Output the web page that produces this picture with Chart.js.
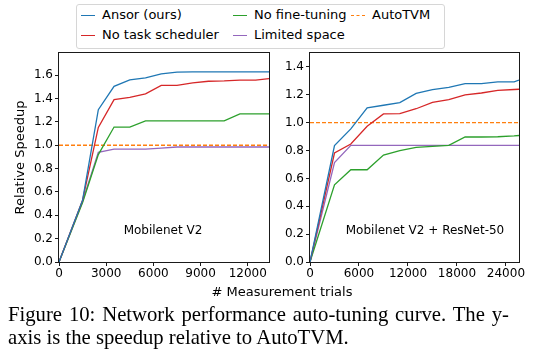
<!DOCTYPE html>
<html>
<head>
<meta charset="utf-8">
<script src="https://cdn.jsdelivr.net/npm/chart.js@4.4.1/dist/chart.umd.min.js"></script>
<style>
  html, body { margin:0; padding:0; background:#fff; }
  body { width:538px; height:360px; position:relative; overflow:hidden; font-family:'DejaVu Sans', sans-serif; }
  canvas { position:absolute; }
  .abs { position:absolute; white-space:nowrap; }
  #legend { position:absolute; left:76px; top:4px; width:367px; height:43px; border:1px solid #d6d6d6; border-radius:3px; background:#fff; font-size:13px; color:#000; z-index:2; }
  .lg-line { position:absolute; width:14px; height:0; border-top-width:1.5px; border-top-style:solid; }
  .lg-text { position:absolute; line-height:14px; white-space:nowrap; }
  .note { font-size:12px; color:#000; transform:translate(-50%,-50%); }
  .cap { font-family:'Liberation Serif', serif; font-size:20.7px; color:#000; }
</style>
</head>
<body>
<canvas id="left" width="280" height="300" style="left:0;top:0;width:280px;height:300px"></canvas>
<canvas id="right" width="258" height="300" style="left:280px;top:0;width:258px;height:300px"></canvas>

<div id="legend"></div>

<div class="abs note" style="left:163px;top:230px">Mobilenet V2</div>
<div class="abs note" style="left:425px;top:230px">Mobilenet V2 + ResNet-50</div>
<div class="abs" style="left:282px;top:291px;font-size:13px;transform:translate(-50%,-50%)"># Measurement trials</div>

<div class="abs cap" style="left:8px;top:303px;width:501px;text-align:justify;text-align-last:justify;">Figure 10: Network performance auto-tuning curve. The y-</div>
<div class="abs cap" style="left:8px;top:326px;">axis is the speedup relative to AutoTVM.</div>

<script>
// ---------- data ----------
const seriesNames = ['Ansor (ours)', 'No task scheduler', 'No fine-tuning', 'Limited space', 'AutoTVM'];
const seriesColors = ['#1f77b4', '#d62728', '#2ca02c', '#9467bd', '#ff7f0e'];

// Left panel: Mobilenet V2
const leftTrials   = [0, 1500, 2500, 3500, 4500, 5500, 6500, 7500, 8500, 9500, 10500, 11500, 12500, 13350];
const leftAnsor    = [0, 0.53, 1.305, 1.505, 1.56, 1.577, 1.612, 1.627, 1.628, 1.628, 1.628, 1.628, 1.628, 1.628];
const leftNoSched  = [0, 0.53, 1.153, 1.39, 1.41, 1.44, 1.512, 1.513, 1.534, 1.548, 1.551, 1.558, 1.558, 1.571];
const leftNoFine   = [0, 0.51, 0.92, 1.156, 1.156, 1.208, 1.208, 1.208, 1.208, 1.208, 1.208, 1.268, 1.268, 1.268];
const leftLimited  = [0, 0.52, 0.94, 0.967, 0.967, 0.967, 0.975, 0.985, 0.985, 0.985, 0.985, 0.985, 0.985, 0.985];
const leftAutoTVM  = [1.0, 1.0];
const leftXTicks   = [0, 3000, 6000, 9000, 12000];
const leftYTicks   = [0, 0.2, 0.4, 0.6, 0.8, 1.0, 1.2, 1.4, 1.6];
const leftXMax = 13350, leftYMax = 1.79;

// Right panel: Mobilenet V2 + ResNet-50
const rightTrials  = [0, 3000, 5000, 7000, 9000, 11000, 13000, 15000, 17000, 19000, 21000, 23000, 25000, 25600];
const rightAnsor   = [0, 0.835, 0.955, 1.106, 1.125, 1.144, 1.21, 1.237, 1.254, 1.28, 1.28, 1.293, 1.293, 1.305];
const rightNoSched = [0, 0.782, 0.847, 0.974, 1.063, 1.065, 1.10, 1.145, 1.165, 1.20, 1.213, 1.232, 1.238, 1.24];
const rightNoFine  = [0, 0.554, 0.662, 0.662, 0.767, 0.80, 0.822, 0.83, 0.837, 0.897, 0.897, 0.899, 0.905, 0.908];
const rightLimited = [0, 0.714, 0.837, 0.837, 0.837, 0.837, 0.837, 0.837, 0.837, 0.837, 0.837, 0.837, 0.837, 0.837];
const rightAutoTVM = [1.0, 1.0];
const rightXTicks  = [0, 6000, 12000, 18000, 24000];
const rightYTicks  = [0, 0.2, 0.4, 0.6, 0.8, 1.0, 1.2, 1.4];
const rightXMax = 25600, rightYMax = 1.5;

// ---------- legend (HTML) ----------
const legendLayout = [ // [seriesIndex, textLeft(px, page), row]
  [0, 102, 0], [1, 102, 1], [2, 254, 0], [3, 254, 1], [4, 372, 0]
];
const lg = document.getElementById('legend');
legendLayout.forEach(([i, tx, row]) => {
  const cy = (row === 0 ? 15 : 35) - 5;
  const line = document.createElement('div');
  line.className = 'lg-line';
  line.style.left = (tx - 21 - 77) + 'px';
  line.style.top = (cy - 0.5) + 'px';
  line.style.borderTopColor = seriesColors[i];
  if (i === 4) line.style.borderTopStyle = 'dashed';
  lg.appendChild(line);
  const t = document.createElement('div');
  t.className = 'lg-text';
  t.style.left = (tx - 77) + 'px';
  t.style.top = (cy - 7) + 'px';
  t.textContent = seriesNames[i];
  lg.appendChild(t);
});

// ---------- charts ----------
const framePlugin = {
  id: 'frame',
  afterDraw(chart) {
    const a = chart.chartArea, c = chart.ctx;
    c.save();
    c.strokeStyle = '#1a1a1a';
    c.lineWidth = 1;
    c.strokeRect(Math.round(a.left) - 0.5, Math.round(a.top) - 0.5, Math.round(a.right - a.left) + 1, Math.round(a.bottom - a.top) + 1);
    c.restore();
  }
};

function makeDatasets(trials, series, autoVals, xmax) {
  const ds = series.map((vals, i) => ({
    label: seriesNames[i],
    data: trials.map((t, k) => ({ x: t, y: vals[k] })),
    borderColor: seriesColors[i],
    borderWidth: 1.3,
    pointRadius: 0,
    tension: 0,
    fill: false
  }));
  ds.push({
    label: seriesNames[4],
    data: [{ x: 0, y: autoVals[0] }, { x: xmax, y: autoVals[1] }],
    borderColor: seriesColors[4],
    borderWidth: 1.3,
    borderDash: [4, 2],
    pointRadius: 0,
    fill: false
  });
  return ds;
}

function makeChart(id, trials, series, autoVals, xTicks, yTicks, xmax, ymax, padLeft, yWidth, padRight, showTitle) {
  const tickFont = { family: 'DejaVu Sans', size: 12 };
  return new Chart(document.getElementById(id), {
    type: 'line',
    data: { datasets: makeDatasets(trials, series, autoVals, xmax) },
    options: {
      responsive: false,
      animation: false,
      devicePixelRatio: 1,
      layout: { padding: { left: padLeft, top: 53, right: padRight, bottom: 0 } },
      plugins: { legend: { display: false }, tooltip: { enabled: false } },
      scales: {
        x: {
          type: 'linear', min: 0, max: xmax,
          afterBuildTicks: s => { s.ticks = xTicks.map(v => ({ value: v })); },
          afterFit: s => { s.height = 38; },
          grid: { drawOnChartArea: false, drawTicks: true, tickLength: 4, tickColor: '#1a1a1a', tickWidth: 1 },
          border: { display: false },
          ticks: { color: '#000', font: tickFont, padding: 1, maxRotation: 0, autoSkip: false,
                   callback: v => String(v) }
        },
        y: {
          type: 'linear', min: 0, max: ymax,
          afterBuildTicks: s => { s.ticks = yTicks.map(v => ({ value: v })); },
          afterFit: s => { s.width = yWidth; },
          grid: { drawOnChartArea: false, drawTicks: true, tickLength: 4, tickColor: '#1a1a1a', tickWidth: 1 },
          border: { display: false },
          title: { display: showTitle, text: 'Relative Speedup', color: '#000', font: { family: 'DejaVu Sans', size: 13 }, padding: { top: 0, bottom: 0 } },
          ticks: { color: '#000', font: tickFont, padding: 2, autoSkip: false,
                   callback: v => Number(v).toFixed(1) }
        }
      }
    },
    plugins: [framePlugin]
  });
}

makeChart('left', leftTrials, [leftAnsor, leftNoSched, leftNoFine, leftLimited], leftAutoTVM,
          leftXTicks, leftYTicks, leftXMax, leftYMax, 13, 46, 11, true);
makeChart('right', rightTrials, [rightAnsor, rightNoSched, rightNoFine, rightLimited], rightAutoTVM,
          rightXTicks, rightYTicks, rightXMax, rightYMax, 0, 30, 19, false);
</script>
</body>
</html>
